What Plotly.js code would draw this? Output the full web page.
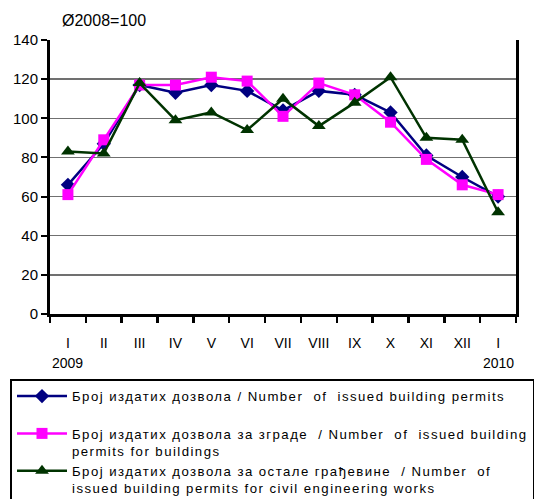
<!DOCTYPE html>
<html>
<head>
<meta charset="utf-8">
<script src="https://cdn.plot.ly/plotly-3.0.1.min.js"></script>
<style>
html,body{margin:0;padding:0;background:#fff;}
#chart{width:534px;height:499px;}
.legendtext{letter-spacing:1.45px;}
</style>
</head>
<body>
<div id="chart"></div>
<script>
// Months (Roman numerals), Jan 2009 .. Jan 2010
var months = ['I','II','III','IV','V','VI','VII','VIII','IX','X','XI','XII','I '];
var monthLabels = ['I','II','III','IV','V','VI','VII','VIII','IX','X','XI','XII','I'];
var yearLabels = ['2009', '2010'];
var yearPositions = [0, 12];

// Index, average 2008 = 100
var totalPermits     = [66, 87, 117, 113, 117, 114, 104, 114, 112, 103, 81, 70, 60];
var buildingPermits  = [61, 89, 117, 117, 121, 119, 101, 118, 112, 98, 79, 66, 61];
var civilEngPermits  = [83, 82, 118, 99, 103, 94, 110, 96, 108, 121, 90, 89, 52];

var names = [
  'Број издатих дозвола / Number\u00a0 of\u00a0 issued building permits<br>\u00a0',
  'Број издатих дозвола за зграде \u00a0/ Number\u00a0 of\u00a0 issued building<br>permits for buildings',
  'Број издатих дозвола за остале грађевине \u00a0/ Number\u00a0 of<br>issued building permits for civil engineering works'
];

var sans = 'Liberation Sans, Arial, sans-serif';

var traces = [
  {x: months, y: totalPermits, name: names[0], type: 'scatter', mode: 'lines+markers',
   line: {color: '#000080', width: 2.5},
   marker: {symbol: 'diamond', size: 11, color: '#000080'}},
  {x: months, y: buildingPermits, name: names[1], type: 'scatter', mode: 'lines+markers',
   line: {color: '#FF00FF', width: 2.5},
   marker: {symbol: 'square', size: 11, color: '#FF00FF'}},
  {x: months, y: civilEngPermits, name: names[2], type: 'scatter', mode: 'lines+markers',
   line: {color: '#003300', width: 2.5},
   marker: {symbol: 'triangle-up', size: 12, color: '#003300'}}
];

var annotations = yearLabels.map(function (t, i) {
  return {x: months[yearPositions[i]], xref: 'x', y: -48.5/274, yref: 'paper',
          text: t, showarrow: false, xanchor: 'center', yanchor: 'middle',
          font: {family: sans, size: 14, color: '#000'}};
});

var layout = {
  width: 534, height: 499,
  margin: {l: 50, r: 18, t: 40, b: 185, autoexpand: false},
  paper_bgcolor: '#fff', plot_bgcolor: '#fff',
  font: {family: sans, size: 13, color: '#000'},
  title: {text: 'Ø2008=100', x: 62/534, xref: 'container', xanchor: 'left',
          y: 1 - 20/499, yref: 'container', yanchor: 'middle',
          font: {family: sans, size: 16, color: '#000'}},
  xaxis: {
    type: 'category', range: [-0.5, 12.5],
    tickvals: months, ticktext: monthLabels,
    tickson: 'boundaries', ticks: 'outside', ticklen: 6, tickwidth: 2.5, tickcolor: '#000',
    ticklabelstandoff: 14,
    showline: true, linecolor: '#000', linewidth: 3,
    showgrid: false, zeroline: false, fixedrange: true,
    tickfont: {family: sans, size: 14}
  },
  yaxis: {
    range: [0, 140], tick0: 0, dtick: 20,
    ticks: 'outside', ticklen: 6, tickwidth: 2, tickcolor: '#000',
    showline: true, linecolor: '#000', linewidth: 3, mirror: true,
    showgrid: true, gridcolor: '#707070', gridwidth: 1.5,
    zeroline: false, fixedrange: true,
    tickfont: {family: sans, size: 15}
  },
  legend: {
    x: -40/466, xanchor: 'left', y: -65/274, yanchor: 'top',
    bgcolor: '#fff', bordercolor: '#000', borderwidth: 2,
    font: {family: sans, size: 13.2, color: '#000'},
    itemwidth: 50, valign: 'top', traceorder: 'normal'
  },
  annotations: annotations,
  showlegend: true
};

Plotly.newPlot('chart', traces, layout, {displayModeBar: false, staticPlot: true});
</script>
</body>
</html>
